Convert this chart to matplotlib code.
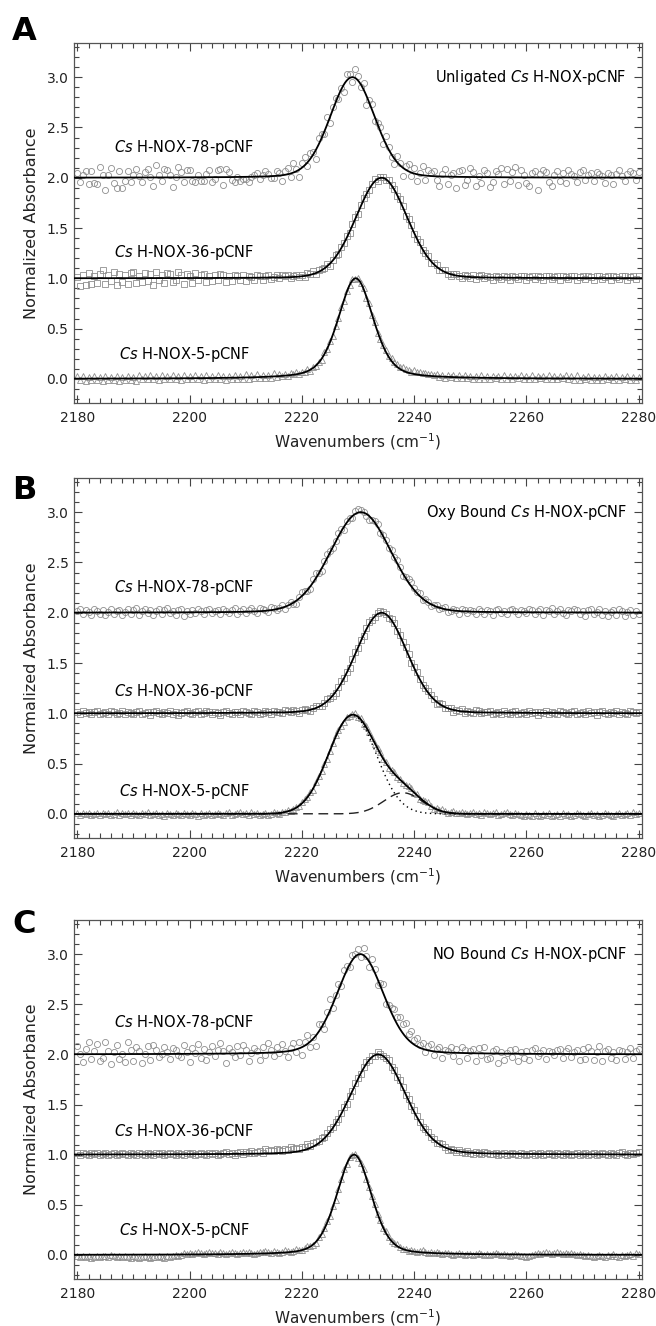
import numpy as np
import matplotlib.pyplot as plt
from matplotlib.ticker import MultipleLocator, FormatStrFormatter

# measured points: wavenumber grid 2180..2280, step 0.5 cm-1
# residuals from the fitted curve, in units of 0.01 absorbance
a78_res = [5, -4, 3, 7, -6, 7, -5, -6, 11, 3, -12, 3, 10, -5, -10, 7, -10, -3, 7, -4,
           3, 8, 2, -4, 5, 8, 0, -8, 12, 2, -4, 8, 7, 2, -10, 0, 10, 5, -5, 7,
           7, -4, -5, 2, -4, -4, 3, 7, -5, -2, 7, 8, -8, 8, 5, -3, -5, 0, -4, -2,
           -2, -5, 0, 2, 4, -2, 2, 5, 2, -2, -2, 5, 3, -6, 4, 6, -3, 9, 2, -7,
           5, 8, -4, 6, 3, -9, 6, 4, -2, 8, -6, 3, 5, -3, 2, -8, 6, 4, -5, 9,
           4, -3, 7, -9, 3, 6, -4, 2, 5, -6, 8, 3, -2, -5, 6, 2, -8, 4, 7, -3,
           5, -7, 2, 9, -4, 6, 3, 5, -4, -10, 3, 8, -7, 2, 4, -11, 6, 7, -8, -3,
           9, 5, -9, 1, -6, 7, 4, -10, -5, 6, 3, 9, -7, 8, -4, 5, 10, -8, 7, 2,
           -6, -9, 4, 6, -12, 3, 7, 5, -4, -8, 2, 6, -3, 4, -5, 7, 4, 2, -4, 6,
           8, -2, 3, 5, -3, 6, 4, 2, -5, 5, 3, -6, 4, 8, 2, -3, 4, 7, 5, -2,
           6]
a36_res = [1, -8, 3, -7, 5, -6, 2, -5, 4, 8, -6, 3, -3, 6, -7, 4, -4, 3, -6, 5,
           6, -5, 2, -4, 5, -3, 4, -7, 6, -2, 3, -5, 5, 4, -4, -2, 6, 3, -6, 4,
           2, -5, 5, -2, 3, 4, -4, 2, -3, 3, -2, 4, 3, -4, 2, -3, 3, 2, -2, 3,
           -3, 2, 1, -2, 3, 2, -2, 2, 3, -1, 1, 2, -1, 2, 1, 2, -1, 1, 2, 0,
           1, -1, 2, 1, 3, -1, 2, 1, 0, 2, -2, 1, 2, -1, 1, 0, 2, -1, 1, 2,
           -1, 1, 2, 0, -1, 1, 2, -2, 1, 1, -1, 2, 0, 1, -1, 2, 1, -2, 1, 2,
           -1, 0, 2, -1, 1, 2, -2, 1, 2, -1, 1, 2, -1, -2, 1, 2, 0, -2, 2, 1,
           -1, 2, -2, 1, 2, -1, 2, 1, -2, 2, 1, -1, 2, 1, -2, 2, 1, -1, 2, 2,
           -2, 1, 2, -1, 2, 1, -2, 2, 2, -1, 1, 2, -2, 2, 1, -1, 2, 2, -2, 1,
           2, -1, 2, 1, -2, 2, 2, -1, 1, 2, -2, 2, 1, -1, 2, 2, -2, 1, 2, -1,
           2]
a5_res = [3, -1, 3, -2, 2, -1, 3, -1, 2, -2, 3, -1, 2, -1, 3, -2, 2, -1, 3, -1,
          2, -2, 3, -1, 2, -1, 3, -1, 2, -2, 3, -1, 2, -1, 3, -1, 2, -2, 3, -1,
          2, -1, 3, -1, 2, -2, 3, -1, 2, -1, 3, -1, 2, -2, 2, -1, 3, -1, 2, -1,
          3, -2, 2, -1, 3, -1, 2, -1, 2, -1, 3, -1, 2, 0, 2, -1, 2, 1, 2, 0,
          1, 0, 2, -1, 1, 0, 1, -1, 2, 0, 1, -1, 1, 0, 2, -1, 1, 0, 1, -1,
          1, 0, 1, -1, 2, 0, 1, -1, 1, 1, 2, 1, 3, 2, 3, 2, 4, 3, 3, 2,
          4, 3, 3, 2, 3, 2, 2, 1, 2, 0, 2, -1, 2, 0, 2, -1, 2, -1, 2, 0,
          2, -1, 2, -1, 3, -1, 2, -1, 2, 0, 2, -1, 3, -1, 2, -1, 2, 0, 3, -1,
          2, -1, 3, -1, 2, 0, 2, -1, 3, -1, 2, -1, 2, 0, 3, -1, 2, -1, 3, -1,
          2, 0, 3, -1, 2, -1, 2, -1, 3, 0, 2, -1, 3, -1, 2, 0, 3, -1, 2, -1,
          2]

b78_res = [2, 4, -1, 3, 1, -2, 4, 2, -1, 3, -2, 1, 4, -1, 2, 3, -2, 1, 3, -1,
           2, 4, -2, 1, 3, -1, 2, -3, 1, 3, -2, 2, 4, -1, 1, -3, 2, 3, -4, 1,
           -2, 2, -1, 3, 1, -2, 2, 3, -1, 1, 2, -2, 3, 1, -1, 2, 4, -2, 1, 3,
           -1, 2, 4, 1, -2, 3, 2, 1, -1, 3, 2, -1, 1, 3, -2, 1, 2, -1, -3, 2,
           4, 2, -1, -3, 3, 5, 1, -2, 3, 4, 2, -1, 1, 3, 2, -3, 2, 1, -2, 3,
           4, 2, 1, -2, -4, -1, 2, 3, -2, 1, 2, -1, 3, 1, 4, 2, -2, 1, 3, 4,
           2, 1, 3, -1, 2, 1, -2, 1, 2, -1, 1, 2, -2, -1, 2, 1, -3, 2, 1, -1,
           2, 1, -2, 3, 1, -2, 2, 1, -3, 2, 3, -1, 1, -2, 2, 3, 1, -2, 2, 1,
           -1, 3, 2, -2, 1, 3, -3, 2, 1, 4, -2, 1, 3, -1, -3, 2, 1, 3, 2, -2,
           1, -3, 2, 3, -1, 1, 4, -2, 2, -3, 1, 3, -2, 4, 2, -3, 1, 3, -2, 2,
           -1]
b36_res = [1, -1, 2, 0, 1, -1, 1, 2, -1, 0, 1, -1, 2, 1, -1, 0, 2, -1, 1, 0,
           -1, 1, 2, -1, 0, 1, -2, 1, 2, 0, -1, 1, 0, 2, -1, 1, -2, 0, 1, 2,
           0, -1, 1, 2, -1, 0, 2, 1, -1, 1, 0, -2, 1, 2, 0, -1, 1, 1, -1, 2,
           1, 0, -1, 2, 1, -1, 0, 2, 1, -1, 2, 1, 0, -1, 2, 1, 0, 2, 1, -1,
           1, 2, 0, -1, 1, 2, 1, -1, 0, 2, 1, 0, -1, 1, 2, 0, 1, -1, 1, 2,
           0, 1, -1, 1, 2, 0, -1, 1, 2, 1, 0, -1, 1, 2, -1, 1, 0, 2, 1, -1,
           1, 2, 0, -1, 1, 2, 1, 0, -2, 1, 2, -1, 0, 1, -2, 1, 0, 2, -1, 1,
           0, -1, 2, 1, -1, 0, 1, 2, -1, 0, 1, -1, 2, 0, -1, 1, 2, -1, 0, 1,
           -1, 2, 0, 1, -2, 1, 0, 2, -1, 1, 0, -1, 2, 1, 0, -1, 1, 2, -1, 0,
           1, -1, 2, 0, 1, -2, 1, 2, 0, -1, 1, 0, 2, -1, 1, 0, -1, 2, 1, 0,
           1]
b5_res = [1, -1, 1, 0, 1, -1, 0, 1, -1, 1, 0, 1, -1, 0, 2, -1, 1, 0, 1, -1,
          1, 0, -1, 1, 0, 2, -1, 0, 1, -1, 0, -2, 1, 0, -1, 1, 0, -1, 1, 0,
          -1, 1, 0, -2, 1, -1, 0, 1, -1, 0, 1, 0, -1, 1, 2, -1, 0, 1, 2, 0,
          1, -1, 2, 0, 1, -1, 0, 1, -1, 0, 1, 0, -1, 1, 0, 1, -1, 0, 1, 0,
          1, 2, 0, 1, -1, 1, 2, 0, 1, -1, 0, 1, 2, 1, 0, -1, 1, 0, 1, 2,
          0, 1, -1, 2, 1, 0, -1, 1, 2, 0, 1, -1, 1, 2, 0, 1, -1, 0, 1, 2,
          0, 1, -1, 0, 1, 2, 0, -1, 1, 0, 2, 1, 0, 1, 2, 0, 1, 2, 1, 0,
          1, 2, 0, 1, -1, 2, 1, 0, 1, 2, -1, 0, 1, 2, 0, -1, 1, 0, -1, -2,
          0, -1, -2, 1, -1, -2, 0, -1, 1, -2, -1, 0, -2, 1, -1, 0, -2, -1, 1, 0,
          -1, -2, 0, 1, -1, 0, -2, -1, 1, 0, -1, -2, 0, 1, -1, 0, 1, -1, 2, 0,
          1]

c78_res = [8, 0, -8, 5, 12, -5, 3, 10, -7, -4, 12, 3, -10, 2, 9, -5, 0, -8, 12, 4,
           -7, 7, 3, -9, 0, 8, -6, 9, 4, -3, 0, 7, 2, -5, 6, 4, -1, -3, 9, 2,
           -8, 6, 1, 10, -4, 5, -6, 2, 8, -2, 4, 11, 3, -9, 6, 1, -4, 7, -2, 8,
           3, -8, 0, 5, 2, -7, 6, -2, 10, 3, -4, 5, -1, 8, 1, -6, 3, 7, -3, 6,
           -8, 4, 9, -5, 2, -10, 8, 3, -7, 5, 12, -4, 2, 6, -3, 7, 4, -2, 5, 3,
           6, -3, 7, 2, -5, 8, 4, -6, 3, 9, -4, 2, 5, 10, 7, 12, 9, 14, 6, 11,
           5, 8, 3, 6, -2, 4, 7, -4, 3, 5, -6, 2, 1, 6, -3, 4, -8, 6, 3, -5,
           2, 4, -8, 5, -2, 6, -6, -4, 3, 5, -9, 2, -6, 1, 4, -3, 5, -7, 2, -4,
           3, -6, 4, 6, -2, 1, 4, -5, 3, 2, -1, 4, 5, -4, 3, 6, -3, 2, 4, -6,
           5, -5, 7, 3, -6, 2, 8, -7, 3, 5, -4, 2, -6, 4, 3, -5, 2, 6, -4, 3,
           5]
c36_res = [1, -1, 1, 0, -1, 1, 0, 1, -1, 0, 1, -1, 0, 1, -1, 0, 1, 0, -1, 1,
           0, -1, 1, 0, -1, 1, 0, -1, 1, 0, 1, -1, 0, 1, 0, -1, 1, 0, -1, 1,
           0, 1, -1, 0, 1, 0, -1, 1, 0, 1, -1, 0, 1, 2, 0, 1, -1, 1, 2, 0,
           2, 1, 3, 1, 2, 3, 1, 4, 2, 3, 2, 4, 3, 2, 4, 3, 5, 3, 4, 2,
           4, 3, 5, 2, 4, 3, 2, 3, 1, 2, 3, 1, 2, 0, 1, 2, -1, 1, 0, 2,
           1, -1, 1, 2, 0, 1, -1, 2, 1, 0, 1, 2, -1, 1, 0, 2, 1, -1, 1, 0,
           2, 1, 0, -1, 1, 2, 0, 1, -1, 1, 2, 0, -1, 1, 0, -1, 1, 0, -1, 1,
           0, -1, 1, 0, -1, 1, 0, -1, 0, 1, -1, 0, 1, -1, 0, 1, 0, -1, 1, 0,
           -1, 0, 1, -1, 0, 1, -1, 0, 1, 0, -1, 1, 0, -1, 1, 0, -1, 0, 1, -1,
           0, 1, -1, 0, 1, -1, 0, 1, 0, -1, 1, 0, -1, 1, 2, 0, -1, 1, 0, 1,
           2]
c5_res = [-1, -2, -1, -2, -1, -3, -2, -1, -2, -1, -1, -2, 0, -1, -2, -1, -2, -1, -2, -3,
          -1, -2, -3, -2, -1, -2, -3, -2, -2, -1, -2, -3, -1, -2, -1, 0, -1, 0, 1, 0,
          1, 0, 1, 2, 1, 0, 1, 2, 1, 1, 0, 2, 1, 0, 1, 2, 1, 0, 1, 2,
          1, 2, 1, 0, 1, 2, 1, 2, 1, 0, 2, 1, 0, 1, 2, 1, 0, 1, 2, 1,
          0, 1, 2, 1, 0, -1, 1, 0, 1, 2, 0, 1, -1, 0, 1, 2, 0, 1, 0, 1,
          -1, 0, 1, -1, 0, 1, 2, 0, 1, 0, 2, 1, 0, 1, 2, 1, 0, 1, 0, 1,
          1, 0, 1, 2, 1, 0, 1, 0, 1, 0, -1, 0, 1, 0, -1, 0, 1, 0, -1, 0,
          0, -1, 0, 1, 0, -1, 0, -1, 0, 1, 0, -1, 0, -1, -2, -1, 0, -1, -2, -1,
          -2, -1, 0, 1, 2, 1, 2, 3, 2, 1, 2, 3, 2, 1, 2, 1, 2, 1, 0, 1,
          0, -1, 0, -1, -2, -1, 0, -1, -2, 0, -1, 1, -1, -2, 0, -1, 0, 1, -1, 2,
          1]

# fit parameters: baseline, amplitude, centre (cm-1), FWHM (cm-1), lorentzian fraction
a_fits = [(2.0, 1.0, 2229.0, 9.4, 0.15), (1.0, 1.0, 2234.2, 10.8, 0.10), (0.0, 1.0, 2229.6, 7.4, 0.40)]
b_fits = [(2.0, 1.0, 2230.5, 12.8, 0.10), (1.0, 1.0, 2234.2, 10.8, 0.10), (0.0, 0.98, 2229.0, 10.0, 0.0)]
b5_shoulder = (0.0, 0.21, 2238.0, 8.0, 0.0)
c_fits = [(2.0, 1.0, 2230.4, 9.8, 0.20), (1.0, 1.0, 2233.6, 11.5, 0.15), (0.0, 1.0, 2229.3, 7.3, 0.30)]

series_names = ['$\\it{Cs}$ H-NOX-78-pCNF', '$\\it{Cs}$ H-NOX-36-pCNF', '$\\it{Cs}$ H-NOX-5-pCNF']
titles = ['Unligated $\\it{Cs}$ H-NOX-pCNF', 'Oxy Bound $\\it{Cs}$ H-NOX-pCNF', 'NO Bound $\\it{Cs}$ H-NOX-pCNF']
panel_letters = ['A', 'B', 'C']
label_y = [[2.30, 1.26, 0.24], [2.25, 1.22, 0.22], [2.32, 1.23, 0.24]]


def pvoigt(x, p):
    base, amp, c, w, eta = p
    u = (x - c) / w
    g = np.exp(-4 * np.log(2) * u ** 2)
    l = 1.0 / (1.0 + 4 * u ** 2)
    return base + amp * (eta * l + (1 - eta) * g)


residuals = [[a78_res, a36_res, a5_res], [b78_res, b36_res, b5_res], [c78_res, c36_res, c5_res]]
fits = [a_fits, b_fits, c_fits]
markers = ['o', 's', '^']
msizes = [4.4, 3.9, 4.2]

W, H = 656, 1326
fig = plt.figure(figsize=(W / 100, H / 100), dpi=100)
plt.rcParams['font.family'] = 'DejaVu Sans'

boxes = [(43, 403), (478, 838), (920, 1279)]
letter_base = [40, 499, 933]
xf = np.linspace(2179.4, 2280.6, 1200)

for k in range(3):
    top, bot = boxes[k]
    ax = fig.add_axes([74 / W, 1 - bot / H, (642 - 74) / W, (bot - top) / H])
    for i in range(3):
        res = np.array(residuals[k][i]) / 100.0
        xd = 2180 + 0.5 * np.arange(len(res))
        yd = pvoigt(xd, fits[k][i])
        if k == 1 and i == 2:
            yd = yd + pvoigt(xd, b5_shoulder)
        ax.plot(xd, yd + res, linestyle='none', marker=markers[i], ms=msizes[i],
                mfc='none', mec='#8e8e8e', mew=0.6, zorder=2)
        yf = pvoigt(xf, fits[k][i])
        if k == 1 and i == 2:
            ys = pvoigt(xf, b5_shoulder)
            ax.plot(xf, yf, color='k', lw=1.0, ls=(0, (1, 2.5)), zorder=3)
            ax.plot(xf, ys, color='#222222', lw=1.0, ls=(0, (7, 4)), zorder=3)
            yf = yf + ys
        ax.plot(xf, yf, color='k', lw=1.3, zorder=4)
        ax.text(2199.1, label_y[k][i], series_names[i], ha='center', va='center', fontsize=10.5)
    ax.text(2277.9, 3.0, titles[k], ha='right', va='center', fontsize=10.5)

    ax.set_xlim(2179.4, 2280.6)
    ax.set_ylim(-0.24, 3.34)
    ax.xaxis.set_major_locator(MultipleLocator(20))
    ax.xaxis.set_minor_locator(MultipleLocator(2))
    ax.yaxis.set_major_locator(MultipleLocator(0.5))
    ax.yaxis.set_minor_locator(MultipleLocator(0.1))
    ax.yaxis.set_major_formatter(FormatStrFormatter('%.1f'))
    ax.tick_params(which='both', direction='in', top=True, right=True, color='#444444', width=0.8)
    ax.tick_params(which='major', length=6)
    ax.tick_params(which='minor', length=3.5)
    ax.tick_params(axis='x', which='major', pad=6, labelsize=10, colors='#222222')
    ax.tick_params(axis='y', which='major', pad=4, labelsize=10, colors='#222222')
    ax.tick_params(which='both', color='#444444')
    for s in ax.spines.values():
        s.set_color('#555555')
        s.set_linewidth(0.9)
    ax.set_xlabel('Wavenumbers (cm$^{-1}$)', fontsize=11, labelpad=4, color='#222222')
    ax.set_ylabel('Normalized Absorbance', fontsize=11.5, labelpad=5, color='#222222')

    fig.text(12 / W, 1 - letter_base[k] / H, panel_letters[k], fontsize=23,
             fontweight='bold', ha='left', va='baseline')

fig.savefig('out.png', dpi=100)
